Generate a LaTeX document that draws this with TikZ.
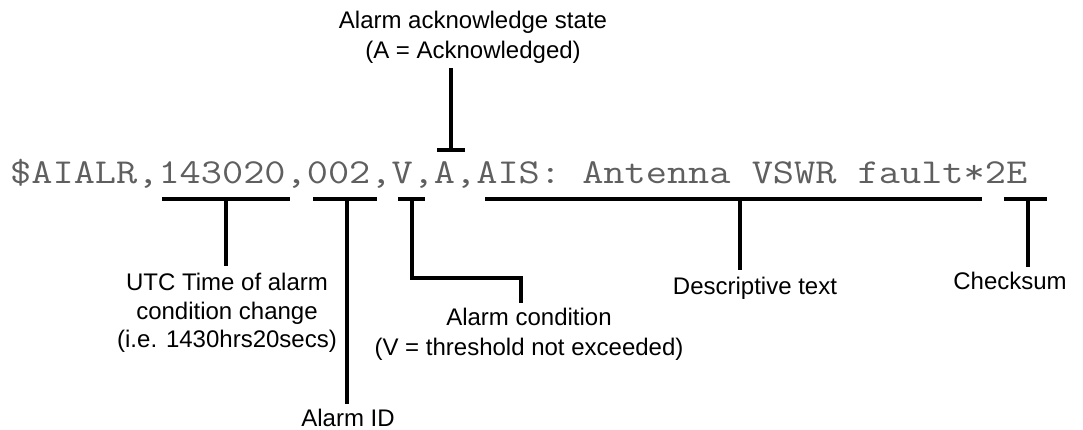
\documentclass[tikz,border=0pt]{standalone}
\usepackage{fontspec}
\setmainfont{Liberation Sans}
\definecolor{msgcolor}{RGB}{95,95,95}
\begin{document}
\begin{tikzpicture}[x=1pt,y=-1pt,
  bar/.style={line width=4pt, line join=miter},
  lbl/.style={font=\fontsize{24}{29}\selectfont, align=center, inner xsep=0pt, inner ysep=7pt},
]
\useasboundingbox (0,0) rectangle (1083,430);
% message (typewriter serif, stretched to Courier pitch 21.6pt)
\node[anchor=base west, inner sep=0pt, text=msgcolor, font=\ttfamily\fontsize{35}{40}\selectfont] (msg) at (10,184)
  {\scalebox{1.1755}[1]{\$AIALR,143020,002,V,A,AIS: Antenna VSWR fault*2E}};

% underline / bar end points
\coordinate (u1a) at (162,199);  \coordinate (u1b) at (290,199);
\coordinate (u2a) at (313,199);  \coordinate (u2b) at (377,199);
\coordinate (u3a) at (398,199);  \coordinate (u3b) at (425,199);
\coordinate (u4a) at (485,199);  \coordinate (u4b) at (982,199);
\coordinate (u5a) at (1004,199); \coordinate (u5b) at (1047,199);
\coordinate (kba) at (437,150);  \coordinate (kbb) at (465,150);

% stem roots
\coordinate (s1) at (226,199);
\coordinate (s2) at (347,199);
\coordinate (s3) at (412,199);
\coordinate (s4) at (740,199);
\coordinate (s5) at (1028,199);
\coordinate (sk) at (451,150);
\coordinate (vk1) at (412,278);
\coordinate (vk2) at (521,278);

% labels
\node[lbl, font=\fontsize{24}{28.5}\selectfont, anchor=north] (utc) at (227,266)
  {UTC Time of alarm\\condition change\\(i.e. 1430hrs20secs)};
\node[lbl, anchor=north, inner ysep=5pt] (aid) at (348,404) {Alarm ID};
\node[lbl, font=\fontsize{24}{30}\selectfont, anchor=north, inner ysep=5pt] (cond) at (529,303)
  {Alarm condition\\(V = threshold not exceeded)};
\node[lbl, anchor=north] (desc) at (755,270) {Descriptive text};
\node[lbl, anchor=north, inner ysep=5pt] (chk) at (1010,267) {Checksum};
\node[lbl, font=\fontsize{24}{30}\selectfont, anchor=south, inner ysep=4pt] (ack) at (473,68)
  {Alarm acknowledge state\\(A = Acknowledged)};

% underlines
\draw[bar] (u1a) -- (u1b);
\draw[bar] (u2a) -- (u2b);
\draw[bar] (u3a) -- (u3b);
\draw[bar] (u4a) -- (u4b);
\draw[bar] (u5a) -- (u5b);
\draw[bar] (kba) -- (kbb);

% connectors
\draw[bar] (s1) -- (s1 |- utc.north);
\draw[bar] (s2) -- (s2 |- aid.north);
\draw[bar] (s3) -- (vk1) -- (vk2) -- (vk2 |- cond.north);
\draw[bar] (s4) -- (s4 |- desc.north);
\draw[bar] (s5) -- (s5 |- chk.north);
\draw[bar] (sk) -- (sk |- ack.south);
\end{tikzpicture}
\end{document}
